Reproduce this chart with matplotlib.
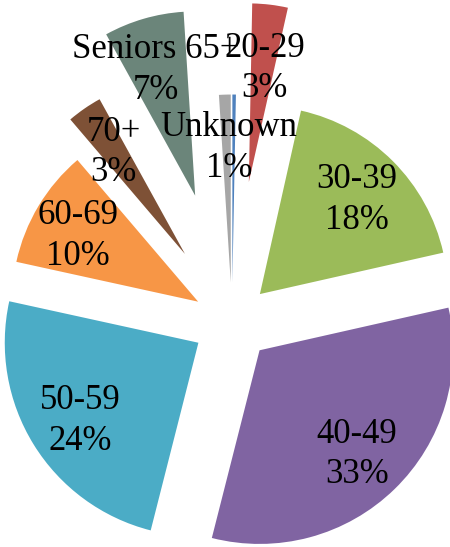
import numpy as np
import matplotlib.pyplot as plt

plt.rcParams['font.family'] = ['Liberation Serif', 'DejaVu Serif']

# age groups, clockwise from 12 o'clock
categories = ['Under 20', '20-29', '30-39', '40-49', '50-59', '60-69', '70+', 'Seniors 65+', 'Unknown']
shares = [0.3, 3.2, 17.9, 32.4, 24.4, 10.3, 3.2, 7.0, 1.0]
pct_text = ['', '3%', '18%', '33%', '24%', '10%', '3%', '7%', '1%']

colors = ['#4F81BD', '#C0504D', '#9BBB59', '#8064A2', '#4BACC6',
          '#F79646', '#7E5136', '#6B857A', '#A6A6A6']
explode = [0.21, 0.75, 0.21, 0.21, 0.21, 0.21, 0.44, 0.70, 0.21]
radius_scale = [1.0, 0.95, 1.0, 1.03, 1.03, 0.99, 0.94, 0.98, 1.0]
# label placement: distance from the wedge tip and clockwise turn (deg)
label_dist = [0.7, 0.61, 0.72, 0.76, 0.755, 0.73, 0.66, 0.70, 0.715]
label_turn = [0, 1.2, 0.9, 1.2, -1.85, -2.3, -0.3, -1.2, 1.0]

labels = [f"{c}\n{p}" if p else '' for c, p in zip(categories, pct_text)]

fig = plt.figure(figsize=(4.5, 5.47), dpi=100)
ax = fig.add_axes([0, 0, 1, 1])

wedges, texts = ax.pie(shares, explode=explode, colors=colors, labels=labels,
                       startangle=90, counterclock=False, radius=1,
                       labeldistance=0.7,
                       wedgeprops=dict(linewidth=0),
                       textprops=dict(ha='center', va='center', fontsize=25,
                                      color='black', linespacing=1.3))
for w, s, t, d, turn in zip(wedges, radius_scale, texts, label_dist, label_turn):
    w.set_radius(s)
    ang = np.deg2rad((w.theta1 + w.theta2) / 2 - turn)
    cx, cy = w.center
    t.set_position((cx + d * np.cos(ang), cy + d * np.sin(ang)))

# pie radius = 188 px, centre at (232, 322) px from top-left
R = 188
ax.set_xlim(-232 / R, (450 - 232) / R)
ax.set_ylim(-(547 - 322) / R, 322 / R)
ax.set_aspect('equal')
ax.axis('off')

fig.savefig('out.png', dpi=100, facecolor='white')
